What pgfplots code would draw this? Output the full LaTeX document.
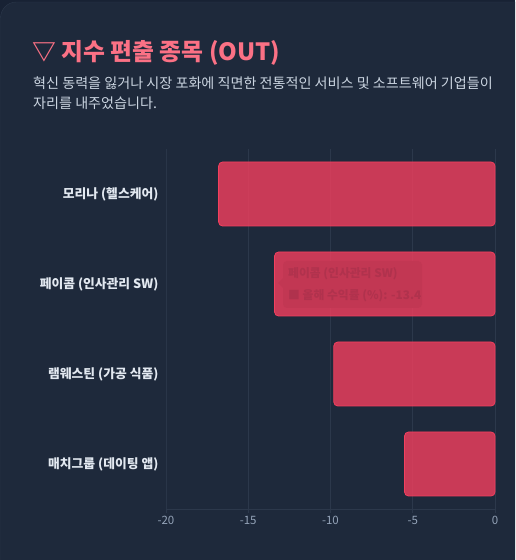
\documentclass[border=0pt]{standalone}
\usepackage{fontspec}
\setmainfont{Noto Sans CJK KR}
\usepackage{pgfplots}
\pgfplotsset{compat=1.18}
\definecolor{bg}{HTML}{1E293B}
\definecolor{outerc}{HTML}{182234}
\definecolor{rose}{HTML}{F43F5E}
\definecolor{titlec}{HTML}{FB7185}
\definecolor{subc}{HTML}{CBD5E1}
\definecolor{labc}{HTML}{E2E8F0}
\definecolor{tickc}{HTML}{94A3B8}
\definecolor{gridc}{HTML}{2C384B}
\definecolor{ttbox}{RGB}{194,55,83}
\definecolor{tttext}{RGB}{176,50,77}
\pgfplotstableread{
y v
0 -5.5
1 -9.8
2 -13.4
3 -16.8
}\outdata
\begin{document}
\begin{tikzpicture}[x=1pt,y=1pt]
\useasboundingbox (0,0) rectangle (515,560);
\clip (0,0) rectangle (515,560);
\fill[outerc] (0,0) rectangle (515,560);
\fill[bg, draw=gridc, rounded corners=16pt] (0.5,-20) rectangle (540,558);
\node[anchor=base west, text=titlec, font=\fontsize{23.8}{26}\selectfont\bfseries, inner sep=0] at (32,499) {▽ 지수 편출 종목 (OUT)};
\node[anchor=base west, text=subc, font=\fontsize{14.1}{16}\selectfont, inner sep=0] at (33,471) {혁신 동력을 잃거나 시장 포화에 직면한 전통적인 서비스 및 소프트웨어 기업들이};
\node[anchor=base west, text=subc, font=\fontsize{14.1}{16}\selectfont, inner sep=0] at (33,451) {자리를 내주었습니다.};
\begin{axis}[
  at={(166pt,51pt)}, anchor=south west, scale only axis,
  width=329pt, height=360pt,
  xmin=-20, xmax=0, ymin=-0.5, ymax=3.5,
  xbar, bar width=64pt,
  xtick={-20,-15,-10,-5,0},
  ytick={0,1,2,3},
  yticklabels={매치그룹 (데이팅 앱), 램웨스틴 (가공 식품), 페이콤 (인사관리 SW), 모리나 (헬스케어)},
  yticklabel style={text=labc, font=\fontsize{12.8}{14}\selectfont\bfseries},
  xticklabel style={text=tickc, font=\fontsize{11.5}{14}\selectfont},
  /pgf/number format/assume math mode=true,
  xmajorgrids, grid style={gridc, line width=0.7pt},
  axis line style={draw=none},
  tick style={draw=gridc, line width=0.7pt},
  major tick length=4pt,
  ytick style={draw=none},
  xtick pos=bottom, tick align=outside,
  clip=false,
]
\addplot[fill=rose, fill opacity=0.8, draw=rose, line width=0.8pt, rounded corners=4pt] table[x=v, y=y] {\outdata};
\draw[gridc, line width=0.7pt] (axis cs:-20,-0.5) -- (axis cs:0,-0.5);
\draw[gridc!80!bg, line width=0.7pt] (axis cs:-20,-0.5) -- (axis cs:-20,3.5);
\end{axis}
\fill[ttbox, rounded corners=4pt] (283,252) rectangle (422,299);
\fill[ttbox] (283,282) -- (278,277) -- (283,272) -- cycle;
\node[anchor=base west, text=tttext, font=\fontsize{11.8}{14}\selectfont\bfseries, inner sep=0] at (288,282) {페이콤 (인사관리 SW)};
\node[anchor=base west, text=tttext, font=\fontsize{11.8}{14}\selectfont\bfseries, inner sep=0] at (288,260) {■ 올해 수익률 (\%): -13.4};
\end{tikzpicture}
\end{document}
